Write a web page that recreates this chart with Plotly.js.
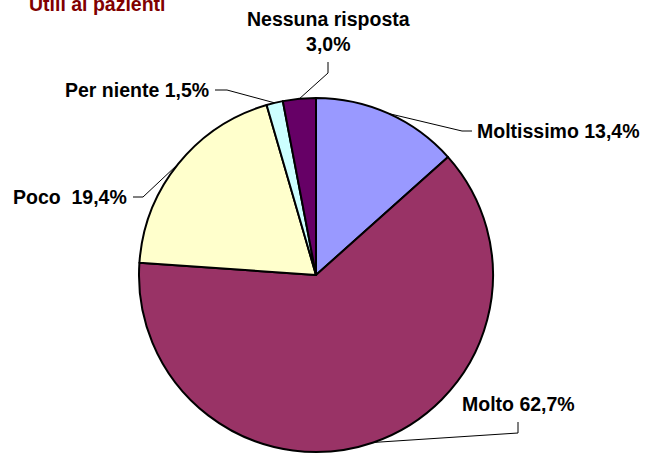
<!DOCTYPE html>
<html>
<head>
<meta charset="utf-8">
<script src="https://cdn.plot.ly/plotly-3.0.1.min.js"></script>
<style>
  html, body { margin: 0; padding: 0; background: #ffffff; }
  #chart { width: 647px; height: 456px; }
</style>
</head>
<body>
<div id="chart"></div>
<script>
// ---- Data ----
const categories = ["Moltissimo", "Molto", "Poco", "Per niente", "Nessuna risposta"];
const values = [13.4, 62.7, 19.4, 1.5, 3.0];
const colors = ["#9999FF", "#993366", "#FFFFCC", "#CCFFFF", "#660066"];
const chartTitle = "Utili ai pazienti";

// ---- Layout helpers (positions/styles only) ----
const W = 647, H = 456;
const cx = 316, cy = 275, R = 177;           // pie centre / radius in pixels
const labelSep = [" ", " ", "&nbsp;&nbsp;", " ", "<br>"];
// label text position (px), anchor, and elbow points of leader line (px)
const labelPos = [
  {x: 475, y: 131, xa: "left",   elbow: [[472, 131], [462, 131]]},
  {x: 460, y: 404, xa: "left",   elbow: [[518, 422], [518, 433]]},
  {x: 129, y: 197, xa: "right",  elbow: [[133, 197], [143, 197]]},
  {x: 211, y: 90,  xa: "right",  elbow: [[215, 90],  [227, 90]]},
  {x: 328, y: 31,  xa: "center", elbow: [[328, 62],  [328, 73]]}
];

const px = (x) => x / W;
const py = (y) => 1 - y / H;

const total = values.reduce((a, b) => a + b, 0);
let cum = 0;
const annotations = [];
const shapes = [];
values.forEach((v, i) => {
  const mid = (cum + v / 2) / total * 2 * Math.PI; // clockwise from 12 o'clock
  cum += v;
  const ax = cx + R * Math.sin(mid);
  const ay = cy - R * Math.cos(mid);
  const lp = labelPos[i];
  const txt = categories[i] + labelSep[i] + v.toFixed(1).replace(".", ",") + "%";
  annotations.push({
    text: txt, x: px(lp.x), y: py(lp.y), xref: "paper", yref: "paper",
    xanchor: lp.xa, yanchor: "middle", showarrow: false, align: "center",
    font: {family: "Liberation Sans, Arial, sans-serif", size: 19.5, color: "#000000", weight: "bold"}
  });
  const pts = lp.elbow.concat([[ax, ay]]);
  const path = pts.map((p, k) => (k === 0 ? "M" : "L") + px(p[0]) + "," + py(p[1])).join(" ");
  shapes.push({type: "path", path: path, xref: "paper", yref: "paper",
               line: {color: "#000000", width: 1}});
});

annotations.push({
  text: chartTitle, x: px(27), y: py(12), xref: "paper", yref: "paper",
  xanchor: "left", yanchor: "bottom", yshift: -5, showarrow: false,
  font: {family: "Liberation Sans, Arial, sans-serif", size: 19.5, color: "#800000", weight: "bold"}
});

const trace = {
  type: "pie",
  labels: categories,
  values: values,
  sort: false,
  direction: "clockwise",
  rotation: 0,
  textinfo: "none",
  hoverinfo: "none",
  showlegend: false,
  marker: {colors: colors, line: {color: "#000000", width: 2}},
  domain: {x: [px(cx - R), px(cx + R)], y: [py(cy + R), py(cy - R)]}
};

const layout = {
  width: W, height: H,
  margin: {l: 0, r: 0, t: 0, b: 0},
  paper_bgcolor: "#ffffff",
  annotations: annotations,
  shapes: shapes
};

Plotly.newPlot("chart", [trace], layout, {displayModeBar: false, staticPlot: true});
</script>
</body>
</html>
